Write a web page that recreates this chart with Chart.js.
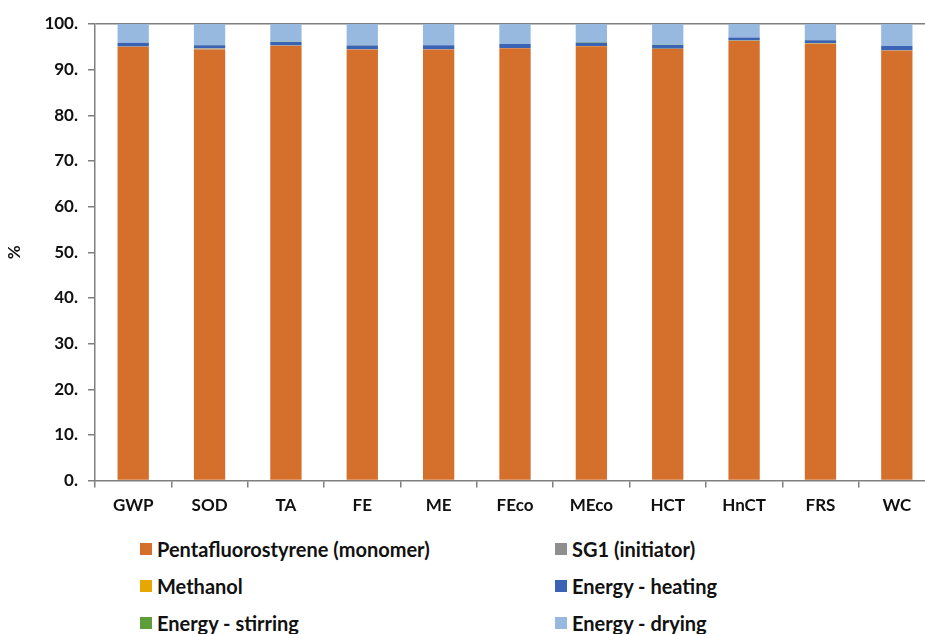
<!DOCTYPE html>
<html>
<head>
<meta charset="utf-8">
<script src="https://cdn.jsdelivr.net/npm/chart.js@4.4.0/dist/chart.umd.min.js"></script>
<style>
  html, body { margin: 0; padding: 0; background: #fff; overflow: hidden; }
  #wrap { position: relative; width: 945px; height: 634px; }
  #box { position: absolute; left: 0; top: 0; width: 945px; height: 524px; }
  #legend { position: absolute; left: 0; top: 530px; width: 925px; font-family: Lato, sans-serif; font-weight: bold; font-size: 20px; color: #111; }
  .item { position: absolute; display: flex; align-items: center; height: 22px; }
  .sw { width: 12px; height: 12px; margin-right: 5px; }
</style>
</head>
<body>
<div id="wrap">
  <div id="box"><canvas id="chart"></canvas></div>
  <div id="legend"></div>
</div>
<script>
var categories = ['GWP', 'SOD', 'TA', 'FE', 'ME', 'FEco', 'MEco', 'HCT', 'HnCT', 'FRS', 'WC'];

var monomer  = [95.0, 94.4, 95.2, 94.4, 94.4, 94.7, 95.1, 94.5, 96.3, 95.6, 94.2];
var sg1      = [0.05, 0.25, 0.05, 0.05, 0.05, 0.05, 0.05, 0.05, 0.05, 0.05, 0.05];
var methanol = [0.02, 0.02, 0.02, 0.02, 0.02, 0.02, 0.02, 0.02, 0.02, 0.15, 0.02];
var heating  = [0.8, 0.7, 0.8, 0.8, 0.85, 0.85, 0.75, 0.85, 0.65, 0.65, 0.9];
var stirring = [0.02, 0.02, 0.02, 0.08, 0.02, 0.02, 0.08, 0.02, 0.02, 0.02, 0.02];
var drying   = [4.11, 4.61, 3.91, 4.65, 4.66, 4.36, 4.0, 4.56, 2.96, 3.53, 4.81];

var seriesNames = ['Pentafluorostyrene (monomer)', 'SG1 (initiator)', 'Methanol', 'Energy - heating', 'Energy - stirring', 'Energy - drying'];
var seriesColors = ['#d4702c', '#8f8f8f', '#e6a800', '#3a63b5', '#5e9e3a', '#97b9e0'];
var seriesData = [monomer, sg1, methanol, heating, stirring, drying];

var yTicks = [0, 10, 20, 30, 40, 50, 60, 70, 80, 90, 100];

var font = { family: 'Lato, sans-serif', size: 17, weight: 'bold' };
var axisColor = '#7f7f7f';

var datasets = [];
for (var i = 0; i < seriesNames.length; i++) {
    datasets.push({
        label: seriesNames[i],
        data: seriesData[i],
        backgroundColor: seriesColors[i],
        borderWidth: 0,
        barPercentage: 0.41,
        categoryPercentage: 1.0
    });
}

var chart = new Chart(document.getElementById('chart'), {
    type: 'bar',
    data: { labels: categories, datasets: datasets },
    options: {
        responsive: true,
        maintainAspectRatio: false,
        animation: false,
        layout: { padding: { top: 24, right: 10, left: 4, bottom: 0 } },
        plugins: { legend: { display: false }, tooltip: { enabled: false } },
        scales: {
            x: {
                stacked: true,
                border: { color: axisColor, width: 1.5 },
                grid: { offset: true, drawOnChartArea: false, tickLength: 7, color: axisColor, lineWidth: 1.5 },
                ticks: { font: font, color: '#111', padding: 8, maxRotation: 0 }
            },
            y: {
                stacked: true,
                min: 0,
                max: 100,
                afterBuildTicks: function(axis) {
                    axis.ticks = yTicks.map(function(v) { return { value: v }; });
                },
                border: { color: axisColor, width: 1.5 },
                grid: {
                    tickLength: 7,
                    tickColor: axisColor,
                    lineWidth: 1.5,
                    color: function(ctx) { return ctx.tick && ctx.tick.value === 100 ? axisColor : 'rgba(0,0,0,0)'; }
                },
                ticks: {
                    font: font, color: '#111', padding: 10,
                    callback: function(v) { return v + '.'; }
                },
                title: { display: true, text: '%', font: font, color: '#111', padding: { top: 0, bottom: 10 } }
            }
        }
    }
});

// two-column legend below the chart
var legend = document.getElementById('legend');
var colX = [140, 555];
var rowY = [8, 45, 82];
for (var k = 0; k < seriesNames.length; k++) {
    var d = document.createElement('div');
    d.className = 'item';
    d.style.left = colX[k % 2] + 'px';
    d.style.top = rowY[Math.floor(k / 2)] + 'px';
    d.innerHTML = '<span class="sw" style="background:' + seriesColors[k] + '"></span>' + seriesNames[k];
    legend.appendChild(d);
}
</script>
</body>
</html>
